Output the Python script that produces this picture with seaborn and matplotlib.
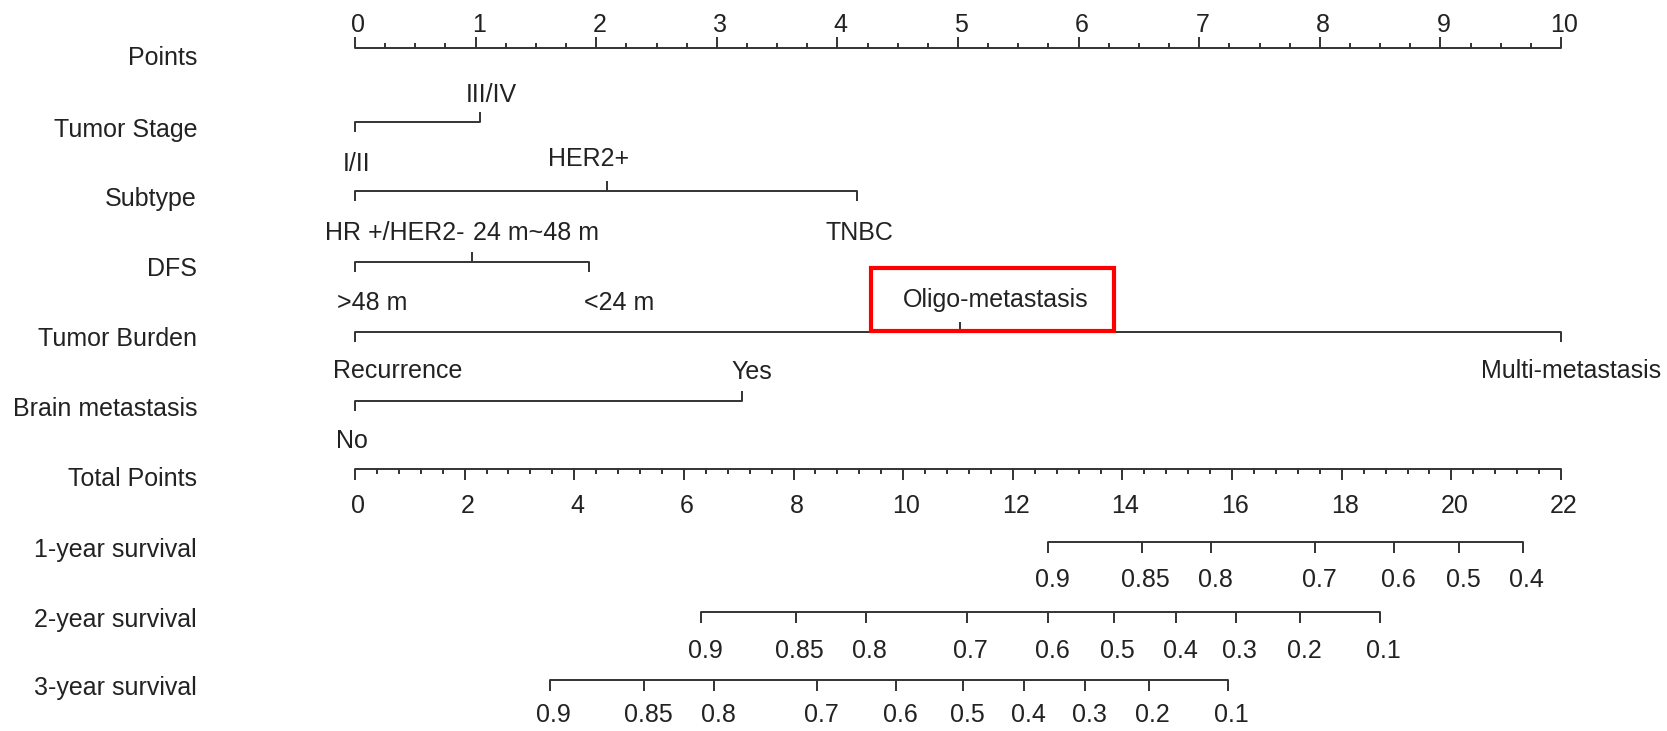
import numpy as np
import pandas as pd
import matplotlib
matplotlib.use("Agg")
import matplotlib.pyplot as plt
from matplotlib.patches import Rectangle
import seaborn as sns

# ---------------- data ----------------
row_labels = ["Points", "Tumor Stage", "Subtype", "DFS", "Tumor Burden",
              "Brain metastasis", "Total Points", "1-year survival",
              "2-year survival", "3-year survival"]

points_major = list(range(0, 11))
total_major = list(range(0, 23, 2))

stage_levels = ["I/II", "III/IV"]
stage_pts = [0.0, 1.04]

subtype_levels = ["HR +/HER2-", "HER2+", "TNBC"]
subtype_pts = [0.0, 2.09, 4.16]

dfs_levels = [">48 m", "24 m~48 m", "<24 m"]
dfs_pts = [0.0, 0.97, 1.94]

burden_levels = ["Recurrence", "Oligo-metastasis", "Multi-metastasis"]
burden_pts = [0.0, 5.02, 10.0]

brain_levels = ["No", "Yes"]
brain_pts = [0.0, 3.21]

surv1_labels = ["0.9", "0.85", "0.8", "0.7", "0.6", "0.5", "0.4"]
surv1_total = [12.64, 14.35, 15.62, 17.52, 18.96, 20.14, 21.30]

surv2_labels = ["0.9", "0.85", "0.8", "0.7", "0.6", "0.5", "0.4", "0.3", "0.2", "0.1"]
surv2_total = [6.31, 8.04, 9.32, 11.16, 12.64, 13.84, 14.98, 16.07, 17.24, 18.69]

surv3_labels = ["0.9", "0.85", "0.8", "0.7", "0.6", "0.5", "0.4", "0.3", "0.2", "0.1"]
surv3_total = [3.55, 5.27, 6.55, 8.43, 9.87, 11.10, 12.21, 13.32, 14.48, 15.92]

# ---------------- layout / style ----------------
W, H = 1667, 731
X0, PXU = 355.0, 120.6          # pixel of 0 points, pixels per point
row_y = [48, 122, 191, 261.5, 331.5, 401, 469, 542, 612, 680]
label_dy = [10, 8, 8, 8, 8, 8, 10, 8, 8, 8]
LC = "#333333"
TC = "#222222"
LW = 1.4
FS = 18

sns.set_theme(style="white")
plt.rcParams["font.family"] = ["Liberation Sans", "DejaVu Sans"]

fig = plt.figure(figsize=(W / 100, H / 100), dpi=100)
ax = fig.add_axes([0, 0, 1, 1])
ax.set_xlim(-X0 / PXU, (W - X0) / PXU)
ax.set_ylim(H, 0)
ax.axis("off")


def pxd(d):
    return d / PXU


def hline(x0, x1, y):
    sns.lineplot(x=[x0, x1], y=[y, y], ax=ax, color=LC, lw=LW,
                 estimator=None, sort=False, legend=False)


# row labels
for lab, y, dy in zip(row_labels, row_y, label_dy):
    ax.text(pxd(197 - X0), y + dy, lab, ha="right", va="center",
            fontsize=FS, color=TC)

# Points axis (ticks upward)
y = row_y[0]
hline(0, 10, y)
minor = [v for v in np.arange(0, 10.001, 0.25) if abs(v - round(v)) > 1e-6]
ax.vlines(minor, y - 5, y, color=LC, lw=LW)
ax.vlines(points_major, y - 11, y, color=LC, lw=LW)
for v in points_major:
    ax.text(v + pxd(3), y - 23, str(v), ha="center", va="center",
            fontsize=FS, color=TC)

# Categorical predictors
cat_rows = [
    (stage_levels, stage_pts, ["below", "above"], [2, 11], [42, -27]),
    (subtype_levels, subtype_pts, ["below", "above", "below"], [40, -18, 3], [42, -32, 42]),
    (dfs_levels, dfs_pts, ["below", "above", "below"], [17, 64, 30], [42, -28, 42]),
    (burden_levels, burden_pts, ["below", "above", "below"], [43, 35, 10], [40, -32, 40]),
    (brain_levels, brain_pts, ["below", "above"], [-3, 10], [40, -29]),
]
for i, (levels, pts, sides, offs, dys) in enumerate(cat_rows):
    y = row_y[i + 1]
    hline(min(pts), max(pts), y)
    for lab, p, side, off, dy in zip(levels, pts, sides, offs, dys):
        if side == "above":
            ax.vlines(p, y - 10, y, color=LC, lw=LW)
        else:
            ax.vlines(p, y, y + 10, color=LC, lw=LW)
        ax.text(p + pxd(off), y + dy, lab, ha="center", va="center",
                fontsize=FS, color=TC)

# Total points axis (ticks downward)
scale = 10.0 / 22.0
y = row_y[6]
hline(0, 22 * scale, y)
tminor = [v for v in np.arange(0, 22.001, 0.4)
          if min(abs(v - m) for m in total_major) > 1e-6]
ax.vlines(np.array(tminor) * scale, y, y + 5, color=LC, lw=LW)
ax.vlines(np.array(total_major) * scale, y, y + 11, color=LC, lw=LW)
for v in total_major:
    ax.text(v * scale + pxd(3), y + 37, str(v), ha="center", va="center",
            fontsize=FS, color=TC)

# Survival axes
for k, (labs, tot, dy) in enumerate([(surv1_labels, surv1_total, 38),
                                     (surv2_labels, surv2_total, 39),
                                     (surv3_labels, surv3_total, 35)]):
    y = row_y[7 + k]
    xs = np.array(tot) * scale
    hline(xs.min(), xs.max(), y)
    ax.vlines(xs, y, y + 11, color=LC, lw=LW)
    for lab, xv in zip(labs, xs):
        ax.text(xv + pxd(4), y + dy, lab, ha="center", va="center",
                fontsize=FS, color=TC)

# red highlight box around Oligo-metastasis
ax.add_patch(Rectangle((pxd(871 - X0), 268), pxd(1114 - 871), 331 - 268,
                       fill=False, edgecolor="#ff0000", lw=3.0, zorder=5))

fig.savefig("out.png", dpi=100)
